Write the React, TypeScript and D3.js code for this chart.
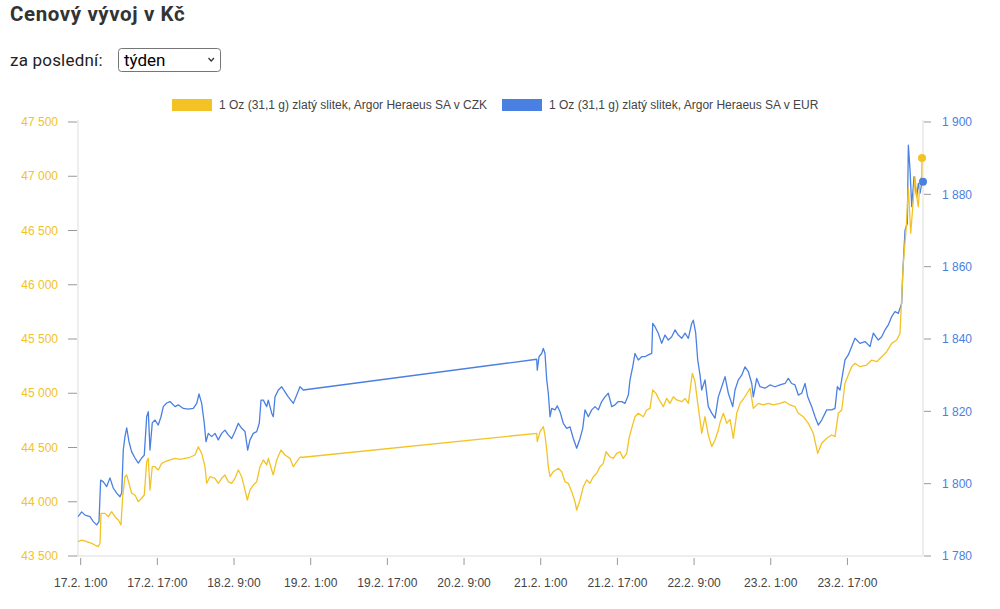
import React from "react";
import * as d3 from "d3";

// hours since 17.2.2022 0:00 (UTC-based) , price
const czkSeries: [number, number][] = [
  [0.44,43632],[1.21,43647],[2.25,43632],[3.30,43617],[3.98,43601],[4.67,43586],[5.03,43617],[5.24,43893],[6.07,43893],[6.76,43862],
  [7.47,43908],[8.16,43862],[8.85,43832],[9.41,43786],[9.76,44046],[10.24,44231],[10.60,44247],[11.08,44170],[11.64,44078],[12.33,44062],
  [13.02,44001],[13.73,44032],[14.27,44062],[14.77,44369],[15.11,44400],[15.46,44108],[15.94,44323],[16.51,44323],[17.19,44293],[17.90,44354],
  [18.59,44369],[19.64,44385],[20.68,44400],[21.73,44391],[22.77,44400],[23.81,44410],[24.85,44431],[25.54,44507],[26.25,44446],[26.94,44323],
  [27.29,44170],[27.98,44231],[29.03,44216],[29.71,44170],[30.42,44216],[31.11,44247],[31.80,44185],[32.51,44170],[33.20,44216],[33.89,44293],
  [34.60,44231],[35.29,44108],[35.77,44016],[36.33,44108],[37.02,44154],[37.73,44185],[38.42,44323],[39.11,44385],[39.82,44339],[40.15,44400],
  [40.86,44293],[41.19,44247],[41.90,44385],[42.80,44477],[43.63,44431],[44.68,44400],[45.37,44323],[46.08,44369],[46.76,44410],[47.45,44410],
  [96.16,44631],[96.28,44554],[96.85,44646],[97.54,44692],[97.89,44615],[98.25,44477],[98.58,44323],[98.94,44231],[99.62,44277],[100.67,44308],
  [101.38,44277],[102.06,44185],[102.75,44170],[103.46,44093],[104.15,44000],[104.50,43924],[105.20,44016],[105.88,44139],[106.59,44201],[107.28,44170],
  [107.97,44231],[108.68,44262],[109.37,44323],[110.06,44354],[110.62,44461],[111.46,44415],[112.15,44400],[112.85,44446],[113.54,44461],[114.23,44400],
  [114.94,44446],[115.42,44585],[115.98,44677],[116.67,44784],[117.36,44815],[118.41,44784],[119.11,44846],[119.80,44861],[120.37,45030],[121.05,44999],
  [121.74,44938],[122.58,44876],[123.29,44953],[123.97,44907],[124.67,44968],[125.38,44938],[126.42,44922],[127.11,44953],[127.80,44907],[128.63,45184],
  [129.19,45107],[129.76,44907],[130.24,44753],[130.59,44631],[131.28,44784],[131.97,44615],[132.68,44508],[133.37,44569],[134.06,44662],[134.38,44723],
  [135.10,44815],[135.81,44723],[136.50,44758],[137.19,44585],[137.90,44815],[138.59,44907],[139.63,44968],[140.68,45046],[141.36,44861],[142.41,44907],
  [143.45,44892],[144.49,44907],[145.54,44892],[146.93,44907],[147.98,44922],[149.02,44892],[150.06,44876],[150.75,44815],[151.79,44784],[152.84,44723],
  [153.88,44631],[154.80,44446],[155.63,44539],[156.68,44585],[157.72,44615],[158.41,44600],[159.10,44815],[159.81,44846],[160.49,45092],[161.18,45168],
  [161.89,45245],[162.58,45276],[163.62,45245],[165.02,45260],[166.07,45306],[167.11,45291],[168.15,45337],[169.20,45383],[170.24,45460],[171.29,45491],
  [171.97,45552],[172.33,45890],[172.66,46198],[173.23,46505],[173.71,46889],[174.21,46474],[174.63,46719],[175.10,46996],[175.46,46812],[175.79,46719],
  [176.15,46966],[176.50,46996],[176.56,47168]
];

const eurSeries: [number, number][] = [
  [0.44,1790.9],[1.21,1792.2],[1.90,1791.3],[2.94,1790.9],[3.63,1789.5],[4.34,1788.6],[4.82,1789.5],[5.17,1801.0],[5.72,1800.5],[6.43,1799.2],
  [7.11,1801.6],[7.80,1798.8],[8.51,1797.4],[9.20,1796.4],[9.56,1797.4],[9.89,1809.3],[10.24,1813.0],[10.60,1815.4],[11.08,1811.6],[11.64,1808.8],
  [12.33,1807.1],[13.02,1805.7],[13.73,1807.1],[14.27,1807.9],[14.77,1818.5],[15.11,1819.9],[15.46,1809.3],[15.94,1816.8],[16.51,1817.6],[17.19,1816.2],
  [17.76,1818.5],[18.24,1821.3],[18.95,1822.3],[19.64,1822.7],[20.68,1821.3],[21.37,1821.8],[22.41,1820.8],[23.45,1820.6],[24.50,1820.8],[25.21,1822.2],
  [25.69,1824.8],[26.25,1822.2],[26.79,1816.7],[27.15,1811.6],[27.63,1813.9],[28.34,1813.0],[29.03,1813.9],[29.71,1812.1],[30.42,1813.9],[31.11,1814.8],
  [31.80,1813.5],[32.51,1812.5],[33.20,1814.4],[33.89,1816.7],[34.60,1815.3],[35.29,1814.4],[35.85,1809.3],[36.33,1812.1],[37.02,1813.9],[37.73,1814.4],
  [38.27,1816.7],[38.63,1823.1],[39.11,1823.1],[39.82,1821.3],[40.15,1823.1],[40.86,1819.5],[41.19,1818.5],[41.55,1824.0],[42.24,1825.9],[42.95,1826.8],
  [43.63,1825.4],[44.32,1824.0],[45.37,1822.2],[46.08,1824.5],[46.76,1826.8],[47.45,1825.9],
  [96.16,1834.4],[96.28,1831.4],[96.64,1835.1],[97.20,1836.0],[97.54,1837.4],[97.89,1836.0],[98.25,1828.7],[98.58,1825.0],[98.94,1818.5],[99.29,1820.8],
  [99.98,1820.4],[100.46,1821.5],[101.02,1819.9],[101.71,1816.7],[102.42,1815.3],[103.11,1815.7],[103.80,1812.5],[104.51,1809.8],[105.20,1812.5],[105.76,1815.3],
  [106.24,1820.4],[106.93,1818.5],[107.64,1820.4],[108.33,1821.3],[109.01,1820.4],[109.72,1822.7],[110.41,1824.0],[111.10,1825.0],[111.81,1821.3],[112.50,1821.8],
  [113.19,1822.7],[113.90,1822.7],[114.59,1822.2],[115.28,1824.5],[115.63,1828.7],[116.19,1832.3],[116.67,1836.0],[117.36,1834.2],[118.07,1835.1],[118.76,1835.1],
  [119.45,1835.6],[120.16,1836.0],[120.37,1844.3],[120.85,1843.4],[121.53,1841.6],[122.24,1838.8],[122.93,1841.1],[123.62,1839.7],[124.33,1840.6],[125.02,1842.5],
  [125.71,1841.1],[126.42,1840.2],[127.11,1841.6],[127.80,1840.2],[128.50,1844.3],[128.84,1845.2],[129.34,1841.6],[129.76,1834.2],[130.24,1830.0],[130.59,1825.9],
  [131.28,1828.7],[131.97,1821.3],[132.68,1819.5],[133.37,1818.1],[134.06,1824.0],[134.77,1826.8],[135.46,1829.6],[136.15,1825.0],[137.06,1821.3],[137.54,1825.9],
  [138.23,1828.7],[138.94,1830.0],[139.63,1832.3],[140.32,1831.0],[141.03,1827.7],[141.36,1824.0],[142.07,1829.1],[142.76,1826.8],[143.80,1826.4],[144.85,1827.3],
  [145.89,1826.8],[146.93,1827.3],[147.98,1827.7],[148.67,1829.1],[149.37,1827.7],[150.06,1827.3],[150.75,1824.5],[151.46,1825.0],[152.15,1827.7],[152.71,1824.0],
  [153.55,1821.3],[154.24,1818.5],[154.92,1816.2],[155.63,1817.6],[156.68,1820.4],[157.72,1820.4],[158.41,1820.8],[158.89,1826.8],[159.45,1825.9],[160.49,1834.2],
  [161.18,1835.6],[161.89,1837.9],[162.58,1840.2],[163.62,1838.8],[164.67,1839.3],[165.71,1837.9],[166.40,1841.6],[167.44,1839.7],[168.15,1840.6],[168.84,1842.5],
  [169.53,1843.9],[170.24,1846.2],[170.93,1847.6],[171.62,1847.1],[172.33,1849.9],[172.54,1858.2],[173.02,1870.1],[173.50,1872.0],[173.71,1893.6],[174.06,1886.7],
  [174.42,1876.6],[174.90,1884.9],[175.46,1879.3],[175.79,1883.0],[176.15,1880.3],[176.56,1883.5]
];

const leftTicks = [43500, 44000, 44500, 45000, 45500, 46000, 46500, 47000, 47500];
const rightTicks = [1780, 1800, 1820, 1840, 1860, 1880, 1900];
const xTickHours = [1, 17, 33, 49, 65, 81, 97, 113, 129, 145, 161];

const seriesNames = [
  "1 Oz (31,1 g) zlatý slitek, Argor Heraeus SA v CZK",
  "1 Oz (31,1 g) zlatý slitek, Argor Heraeus SA v EUR",
];
const titleText = "Cenový vývoj v Kč";
const periodLabel = "za poslední:";
const periodValue = "týden";

const YELLOW = "#f3c325";
const BLUE = "#4a80e2";
const T0 = Date.UTC(2022, 1, 17);
const toDate = (h: number) => new Date(T0 + h * 3600000);

export default function App() {
  const L = 78, R = 922, TOP = 122, BOT = 556;
  const x = d3
    .scaleUtc()
    .domain([toDate(czkSeries[0][0]), toDate(czkSeries[czkSeries.length - 1][0])])
    .range([L, R]);
  const yL = d3.scaleLinear().domain([43500, 47500]).range([BOT, TOP]);
  const yR = d3.scaleLinear().domain([1780, 1900]).range([BOT, TOP]);
  const loc = d3.formatLocale({ decimal: ",", thousands: "\u00a0", grouping: [3], currency: ["", ""] });
  const fmt = loc.format(",");
  const tf = d3.utcFormat("%-d.%-m. %-H:%M");

  const lineL = d3
    .line<[number, number]>()
    .x((d) => x(toDate(d[0])))
    .y((d) => yL(d[1]));
  const lineR = d3
    .line<[number, number]>()
    .x((d) => x(toDate(d[0])))
    .y((d) => yR(d[1]));

  const lastC = czkSeries[czkSeries.length - 1];
  const lastE = eurSeries[eurSeries.length - 1];
  const axisFont = "'Liberation Sans', Arial, Helvetica, sans-serif";
  const uiFont = "Roboto, 'Noto Sans', sans-serif";

  return (
    <svg
      width={1000}
      height={609}
      style={{ position: "absolute", left: 0, top: 0, background: "#fff" }}
    >
      <rect x={0} y={0} width={1000} height={609} fill="#fff" />
      <text x={10} y={21} fontFamily={uiFont} fontWeight={700} fontSize={20.5} letterSpacing={0.6} fill="#333">
        {titleText}
      </text>
      <text x={10} y={66} fontFamily={uiFont} fontSize={17} letterSpacing={0.2} fill="#222">
        {periodLabel}
      </text>
      <rect x={118.5} y={48.5} width={102} height={23} rx={3} fill="#fff" stroke="#767676" />
      <text x={124} y={66} fontFamily={uiFont} fontSize={17} fill="#000">
        {periodValue}
      </text>
      <path d="M208.5,58 L211.2,61 L214,58" fill="none" stroke="#333" strokeWidth={1.2} />

      {/* legend */}
      <rect x={172} y={99} width={40} height={12} fill={YELLOW} />
      <text x={219} y={109} fontFamily={axisFont} fontSize={12} fill="#444">
        {seriesNames[0]}
      </text>
      <rect x={502} y={99} width={40} height={12} fill={BLUE} />
      <text x={549} y={109} fontFamily={axisFont} fontSize={12} fill="#444">
        {seriesNames[1]}
      </text>

      {/* axis lines */}
      <line x1={L} x2={L} y1={TOP - 2} y2={BOT} stroke="#ddd" />
      <line x1={R + 1} x2={R + 1} y1={TOP - 2} y2={BOT} stroke="#ddd" />
      <line x1={L - 2} x2={R + 1} y1={BOT} y2={BOT} stroke="#ddd" />

      {/* left axis */}
      {leftTicks.map((t) => (
        <g key={"l" + t}>
          <line x1={L - 10} x2={L - 1} y1={yL(t)} y2={yL(t)} stroke="#999" />
          <text
            x={L - 20}
            y={yL(t)}
            dy="0.35em"
            textAnchor="end"
            fontFamily={axisFont}
            fontSize={12}
            fill={YELLOW}
          >
            {fmt(t)}
          </text>
        </g>
      ))}

      {/* right axis */}
      {rightTicks.map((t) => (
        <g key={"r" + t}>
          <line x1={R + 2} x2={R + 9} y1={yR(t)} y2={yR(t)} stroke="#999" />
          <text
            x={R + 20}
            y={yR(t)}
            dy="0.35em"
            textAnchor="start"
            fontFamily={axisFont}
            fontSize={12}
            fill={BLUE}
          >
            {fmt(t)}
          </text>
        </g>
      ))}

      {/* x axis */}
      {xTickHours.map((h) => {
        const px = x(toDate(h));
        return (
          <g key={"x" + h}>
            <line x1={px} x2={px} y1={BOT + 2} y2={BOT + 9} stroke="#999" />
            <text
              x={px}
              y={587}
              textAnchor="middle"
              fontFamily={axisFont}
              fontSize={12}
              fill="#444"
            >
              {tf(toDate(h))}
            </text>
          </g>
        );
      })}

      {/* series */}
      <path d={lineR(eurSeries) || ""} fill="none" stroke={BLUE} strokeWidth={1.3} strokeLinejoin="round" />
      <path d={lineL(czkSeries) || ""} fill="none" stroke={YELLOW} strokeWidth={1.3} strokeLinejoin="round" />
      <circle cx={x(toDate(lastE[0])) + 1} cy={yR(lastE[1])} r={4} fill={BLUE} />
      <circle cx={x(toDate(lastC[0]))} cy={yL(lastC[1])} r={4} fill={YELLOW} />
    </svg>
  );
}
